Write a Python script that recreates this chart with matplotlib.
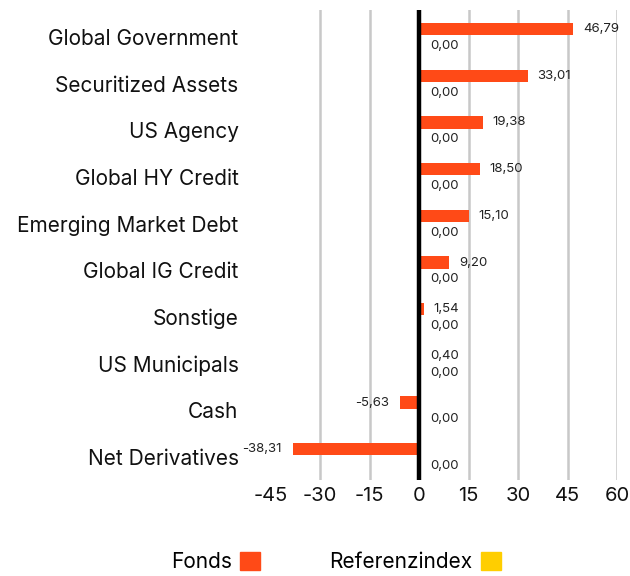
import matplotlib
matplotlib.use("Agg")
import matplotlib.pyplot as plt
from matplotlib.patches import Patch
import numpy as np

categories = ["Global Government", "Securitized Assets", "US Agency", "Global HY Credit",
              "Emerging Market Debt", "Global IG Credit", "Sonstige", "US Municipals",
              "Cash", "Net Derivatives"]
fonds = [46.79, 33.01, 19.38, 18.50, 15.10, 9.20, 1.54, 0.40, -5.63, -38.31]
referenz = [0.00] * 10
series_names = ["Fonds", "Referenzindex"]
xticks = [-45, -30, -15, 0, 15, 30, 45, 60]

plt.rcParams['font.family'] = ['Inter', 'DejaVu Sans']
ORANGE = "#FF4A17"
YELLOW = "#FFCE00"

def fmt(v):
    return f"{v:.2f}".replace(".", ",")

fig = plt.figure(figsize=(6.3, 5.76), dpi=100)
ax = fig.add_axes([270.5/630, 1 - 480/576, 346.5/630, 470/576])

y = np.arange(len(categories))
h = 0.26
off_f = -0.17
off_r = 0.19
ax.barh(y + off_f, fonds, height=h, color=ORANGE, zorder=3)
ax.barh(y + off_r, referenz, height=h, color=YELLOW, zorder=3)

for i, v in enumerate(fonds):
    if v >= 0:
        ax.annotate(fmt(v), (v, i + off_f), xytext=(7, 0), textcoords="offset points",
                    ha="left", va="center", fontsize=9.5, color="#222222")
    else:
        ax.annotate(fmt(v), (v, i + off_f), xytext=(-8, 0), textcoords="offset points",
                    ha="right", va="center", fontsize=9.5, color="#222222")
for i, v in enumerate(referenz):
    ax.annotate(fmt(v), (v, i + off_r), xytext=(8, 0), textcoords="offset points",
                ha="left", va="center", fontsize=9.5, color="#222222")

ax.set_xlim(-45, 60)
ax.set_ylim(9.49, -0.58)
ax.set_xticks(xticks)
ax.set_xticklabels([str(t) for t in xticks], fontsize=14.5, color="#111111")
ax.set_yticks(y)
ax.set_yticklabels(categories, fontsize=15, color="#111111")
ax.tick_params(axis="both", length=0)
ax.tick_params(axis="y", pad=23)
ax.tick_params(axis="x", pad=5)
for s in ax.spines.values():
    s.set_visible(False)
for t in xticks:
    if t == 0 or t == -45:
        continue
    ax.axvline(t, color="#C8C8C8", lw=1.8, zorder=1)
ax.axvline(0, color="black", lw=3.2, zorder=4)

handles = [Patch(color=ORANGE), Patch(color=YELLOW)]
fig.legend(handles, series_names, loc="center", bbox_to_anchor=(0.533, 0.024), ncol=2,
           markerfirst=False, frameon=False, fontsize=15, handlelength=0.95, handleheight=0.95,
           columnspacing=3.3, handletextpad=0.43)

fig.savefig("out.png", dpi=100)
